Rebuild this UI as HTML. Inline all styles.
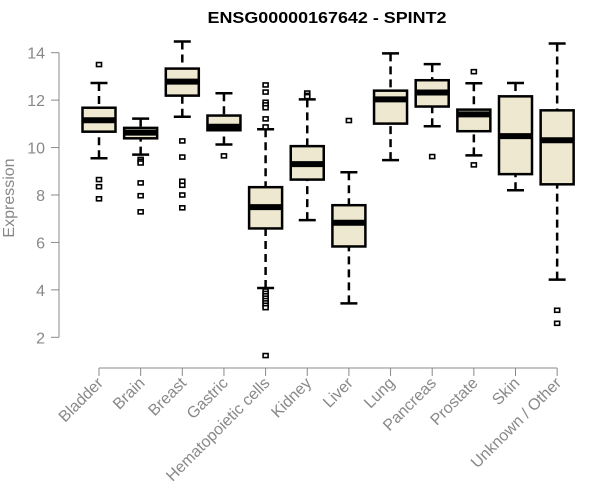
<!DOCTYPE html>
<html><head><meta charset="utf-8"><style>
html,body{margin:0;padding:0;background:#fff;}
svg{display:block;font-family:"Liberation Sans",Arial,sans-serif;}
</style></head><body>
<svg id="chart" width="600" height="500" viewBox="0 0 600 500">
<text x="327" y="23" text-anchor="middle" font-size="16" font-weight="bold" textLength="239" lengthAdjust="spacingAndGlyphs">ENSG00000167642 - SPINT2</text>
<text transform="translate(14,198) rotate(-90)" text-anchor="middle" font-size="16" fill="#888">Expression</text>
<g id="yaxis"></g>
<g id="xaxis"></g>
<g id="boxes"></g>
</svg>
<script>
const categories=["Bladder","Brain","Breast","Gastric","Hematopoietic cells","Kidney","Liver","Lung","Pancreas","Prostate","Skin","Unknown / Other"];
const whiskerLow=[9.55,9.7,11.3,10.13,4.08,6.94,3.43,9.47,10.9,9.67,8.2,4.43];
const q1=[10.67,10.39,12.19,10.73,6.59,8.65,5.83,11.01,11.73,10.69,8.88,8.45];
const medians=[11.15,10.63,12.78,10.88,7.49,9.3,6.83,12.03,12.32,11.4,10.48,10.31];
const q3=[11.68,10.83,13.33,11.35,8.33,10.06,7.57,12.4,12.84,11.6,12.16,11.57];
const whiskerHigh=[12.72,11.22,14.47,12.29,10.77,12.03,8.96,13.97,13.52,12.71,12.72,14.39];
const outliers=[[13.5,8.65,8.35,7.84],[9.5,9.42,9.35,8.51,7.97,7.29],[10.28,9.6,8.58,8.41,8.0,7.46],[9.65],
[12.64,12.34,11.91,11.8,11.68,11.21,10.87,3.95,3.85,3.75,3.65,3.55,3.45,3.35,3.25,1.23],[12.3,12.2,12.15],[11.14],[],[9.62],[13.2,9.27],[],[3.14,2.59]];
const yTicks=[2,4,6,8,10,12,14];
const NS="http://www.w3.org/2000/svg";
function y(v){return 337.3-(v-2)*(337.3-52.7)/12;}
function x(i){return 99+i*41.65;}
function mk(parent,tag,attrs){const e=document.createElementNS(NS,tag);for(const k in attrs)e.setAttribute(k,attrs[k]);parent.appendChild(e);return e;}
const ya=document.getElementById('yaxis');
mk(ya,'line',{x1:59,x2:59,y1:y(14),y2:y(2),stroke:'#888','stroke-width':1});
yTicks.forEach(t=>{
 const l=mk(ya,'line',{x1:51,x2:59,y1:y(t),y2:y(t),stroke:'#888'});
 
 
 const tx=mk(ya,'text',{x:45,y:y(t)+6,'text-anchor':'end','font-size':16,fill:'#888'});
 tx.textContent=t;
 
 
});
const xa=document.getElementById('xaxis');
mk(xa,'line',{x1:x(0),x2:x(categories.length-1),y1:368,y2:368,stroke:'#888'});
categories.forEach((c,i)=>{
 const l=mk(xa,'line',{x1:x(i),x2:x(i),y1:368,y2:376,stroke:'#888'});
 
 
 const tx=mk(xa,'text',{transform:`translate(${x(i)+5},384) rotate(-45)`,'text-anchor':'end','font-size':16,fill:'#888'});
 tx.textContent=c;
 
 
});
const bg=document.getElementById('boxes');
categories.forEach((c,i)=>{
 const g=mk(bg,'g',{});
 
 
 const cx=x(i),hw=16.5;
 mk(g,'line',{x1:cx,x2:cx,y1:y(whiskerHigh[i]),y2:y(q3[i]),stroke:'#000','stroke-width':2.5,'stroke-dasharray':'8,5'});
 mk(g,'line',{x1:cx,x2:cx,y1:y(whiskerLow[i]),y2:y(q1[i]),stroke:'#000','stroke-width':2.5,'stroke-dasharray':'8,5'});
 mk(g,'line',{x1:cx-8.5,x2:cx+8.5,y1:y(whiskerHigh[i]),y2:y(whiskerHigh[i]),stroke:'#000','stroke-width':2.5});
 mk(g,'line',{x1:cx-8.5,x2:cx+8.5,y1:y(whiskerLow[i]),y2:y(whiskerLow[i]),stroke:'#000','stroke-width':2.5});
 mk(g,'rect',{x:cx-hw,y:y(q3[i]),width:2*hw,height:y(q1[i])-y(q3[i]),fill:'#ede8cf',stroke:'#000','stroke-width':2.5});
 mk(g,'line',{x1:cx-hw,x2:cx+hw,y1:y(medians[i]),y2:y(medians[i]),stroke:'#000','stroke-width':6});
 outliers[i].forEach(o=>{
  const r=mk(g,'rect',{x:cx-2.5,y:y(o)-2,width:5,height:4,fill:'#fff',stroke:'#000','stroke-width':1.6});
  
  
 });
});
</script>
</body></html>
